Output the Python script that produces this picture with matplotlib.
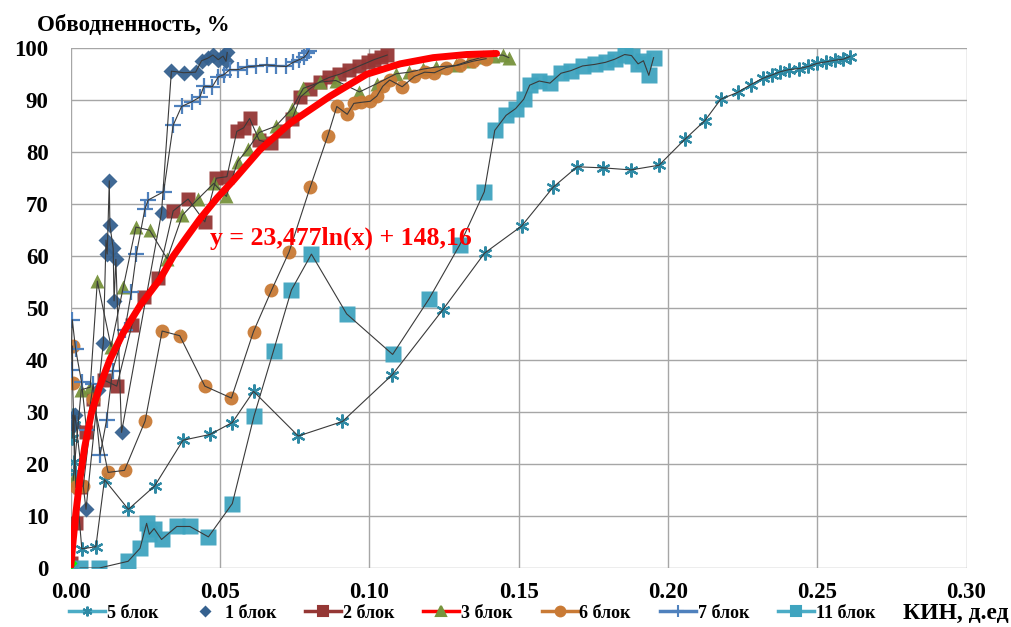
import matplotlib
matplotlib.use("Agg")
import matplotlib.pyplot as plt
from matplotlib.lines import Line2D

# Обводненность vs КИН по блокам

# 5 блок
x5 = [0.0005, 0.0008, 0.001, 0.0012, 0.0015, 0.0037, 0.0084, 0.0113, 0.0193, 0.0281, 0.0376, 0.0466, 0.0541,
      0.0612, 0.0762, 0.091, 0.1077, 0.1246, 0.1386, 0.151, 0.1616, 0.1696, 0.1781, 0.1876, 0.197, 0.2057,
      0.2124, 0.2177, 0.2233, 0.2277, 0.2317, 0.235, 0.2377, 0.2406, 0.244, 0.247, 0.25, 0.2531, 0.2559,
      0.2587, 0.2609]
y5 = [25.0, 29.5, 27.5, 20.5, 18.5, 3.7, 4.1, 17.0, 11.3, 15.8, 24.6, 25.7, 28.0, 34.0, 25.4, 28.2, 37.2,
      49.7, 60.6, 65.8, 73.3, 77.2, 77.0, 76.6, 77.5, 82.5, 86.1, 90.2, 91.5, 93.0, 94.2, 94.9, 95.5, 95.9,
      96.1, 96.5, 97.1, 97.4, 97.7, 97.9, 98.4]

# 1 блок
x1 = [0.0008, 0.0014, 0.0051, 0.0092, 0.0109, 0.0118, 0.0122, 0.0129, 0.0131, 0.0142, 0.0145, 0.0151, 0.017,
      0.0304, 0.0337, 0.0378, 0.0418, 0.0438, 0.0459, 0.0476, 0.0494, 0.051, 0.052, 0.0524]
y1 = [27.5, 29.4, 11.3, 34.2, 43.3, 63.1, 60.4, 74.5, 66.0, 61.5, 51.4, 59.4, 26.1, 68.4, 95.6, 95.3, 95.4,
      97.6, 98.1, 98.7, 97.8, 98.5, 97.5, 99.2]

# 2 блок
x2 = [0.0, 0.0017, 0.0031, 0.0051, 0.0075, 0.011, 0.0154, 0.0205, 0.0246, 0.0292, 0.0343, 0.0393, 0.0449,
      0.0487, 0.0523, 0.0556, 0.0579, 0.0599, 0.0631, 0.0671, 0.071, 0.0742, 0.0769, 0.0801, 0.0835, 0.0866,
      0.09, 0.0933, 0.0966, 0.0995, 0.1015, 0.104, 0.106]
y2 = [1.0, 8.7, 15.6, 26.2, 32.6, 36.2, 35.0, 46.8, 52.1, 55.9, 68.7, 71.0, 66.6, 75.0, 75.3, 84.0, 84.7,
      86.5, 82.3, 81.7, 84.0, 86.4, 90.6, 92.2, 93.6, 94.4, 95.0, 95.8, 96.6, 97.3, 97.8, 98.3, 98.7]

# 3 блок
x3 = [0.0008, 0.0035, 0.0065, 0.0089, 0.0135, 0.0176, 0.0218, 0.0264, 0.0323, 0.0374, 0.0426, 0.0479,
      0.0521, 0.0559, 0.0593, 0.0631, 0.0686, 0.074, 0.0779, 0.0836, 0.0888, 0.0967, 0.1025, 0.109, 0.1134,
      0.118, 0.1224, 0.129, 0.1335, 0.138, 0.1413, 0.1447, 0.1467]
y3 = [16.9, 34.3, 34.8, 55.2, 42.6, 54.1, 65.6, 65.0, 59.5, 67.9, 71.0, 74.0, 71.5, 78.2, 80.6, 83.8, 85.0,
      88.3, 92.3, 93.5, 93.8, 91.6, 93.2, 95.1, 95.4, 96.0, 96.4, 96.7, 97.6, 98.3, 98.6, 98.7, 98.2]

# 6 блок
x6 = [0.0006, 0.0006, 0.0017, 0.0042, 0.0075, 0.0125, 0.018, 0.0249, 0.0306, 0.0365, 0.0449, 0.0538, 0.0612,
      0.0672, 0.0731, 0.0802, 0.0861, 0.0891, 0.0926, 0.0948, 0.0973, 0.1003, 0.1025, 0.1045, 0.1068, 0.111,
      0.1151, 0.1185, 0.1218, 0.1257, 0.1302, 0.1346, 0.1391]
y6 = [42.7, 35.6, 15.5, 15.8, 32.5, 18.4, 18.8, 28.3, 45.6, 44.7, 35.0, 32.7, 45.5, 53.4, 60.8, 73.3, 83.2,
      88.8, 87.3, 89.4, 89.6, 89.8, 90.8, 92.7, 93.9, 92.6, 94.6, 95.4, 95.3, 96.3, 96.8, 97.5, 98.0]

# 7 блок
x7 = [0.0, 0.0005, 0.0016, 0.0036, 0.0053, 0.0075, 0.0098, 0.012, 0.014, 0.0181, 0.0203, 0.022, 0.0248,
      0.0259, 0.0311, 0.0343, 0.0371, 0.0405, 0.0432, 0.0446, 0.0474, 0.0494, 0.0512, 0.0533, 0.056, 0.0589,
      0.0622, 0.0656, 0.0689, 0.0722, 0.0745, 0.0765, 0.0782, 0.0792, 0.0797]
y7 = [38.1, 47.8, 42.2, 35.8, 26.5, 35.4, 21.7, 28.5, 38.0, 45.8, 53.1, 60.5, 69.0, 70.8, 72.4, 85.2, 88.8,
      89.7, 90.6, 92.7, 92.6, 94.5, 94.9, 95.9, 95.9, 96.4, 96.6, 96.8, 96.6, 96.5, 97.3, 97.8, 98.3, 99.0,
      99.5]

# 11 блок
x11 = [0.0031, 0.0095, 0.0192, 0.0232, 0.0254, 0.0263, 0.0279, 0.0304, 0.0355, 0.0399, 0.0461, 0.0541,
       0.0614, 0.0679, 0.0739, 0.0806, 0.0924, 0.1078, 0.12, 0.1303, 0.1385, 0.142, 0.1458, 0.149, 0.1517,
       0.1537, 0.1569, 0.1605, 0.1642, 0.1675, 0.1714, 0.1755, 0.1791, 0.1822, 0.1855, 0.1878, 0.19, 0.1918,
       0.1936, 0.1952]
y11 = [0.0, 0.0, 1.3, 3.8, 8.6, 6.5, 7.6, 5.5, 8.0, 8.0, 6.0, 12.4, 29.3, 41.8, 53.5, 60.4, 48.9, 41.1, 51.8,
       62.2, 72.4, 84.2, 87.1, 88.4, 90.2, 92.9, 93.7, 93.3, 95.2, 95.7, 96.6, 96.9, 97.3, 97.9, 98.8, 98.6,
       97.0, 97.6, 94.8, 98.2]

# red trend curve
x_tr = [0.0, 0.0008, 0.0017, 0.003, 0.0047, 0.0069, 0.0097, 0.0131, 0.0176, 0.0232, 0.0299, 0.0343, 0.0390,
        0.0433, 0.0490, 0.0545, 0.0634, 0.0735, 0.0869, 0.0991, 0.1103, 0.1214, 0.1326, 0.1426]
y_tr = [0.3, 5.3, 10.5, 16.9, 23.4, 29.8, 35.0, 40.1, 45.3, 50.5, 55.6, 60.0, 63.8, 67.2, 71.2, 74.6, 80.5,
        85.6, 90.8, 95.0, 97.0, 98.2, 98.8, 99.0]

x_ticks = [0.0, 0.05, 0.10, 0.15, 0.20, 0.25, 0.30]
y_ticks = [0, 10, 20, 30, 40, 50, 60, 70, 80, 90, 100]

serif = ['Liberation Serif', 'DejaVu Serif']
line_col = '#3a3a3a'

fig = plt.figure(figsize=(10.11, 6.27), dpi=100)
ax = fig.add_axes([0.070, 0.094, 0.886, 0.829])

series = [
    # x, y, label, marker, face, size, legend line colour
    (x5, y5, '5 блок', (6, 2, 0), '#2f8aa5', 10, '#4bacc6'),
    (x1, y1, '1 блок', 'D', '#35618f', 8, None),
    (x2, y2, '2 блок', 's', '#953735', 10, '#953735'),
    (x3, y3, '3 блок', '^', '#77933c', 10, '#ff0000'),
    (x6, y6, '6 блок', 'o', '#c97a35', 10, '#c97a35'),
    (x7, y7, '7 блок', '+', '#4f81bd', 11, '#4f81bd'),
    (x11, y11, '11 блок', 's', '#3fa4bf', 11, '#4bacc6'),
]

handles = []
for xs, ys, lab, mk, col, ms, lcol in series:
    if mk == '+' or isinstance(mk, tuple):
        ax.plot(xs, ys, ls='none', marker=mk, ms=ms, mew=1.6, color=col, zorder=3)
    else:
        ax.plot(xs, ys, ls='none', marker=mk, ms=ms, mec='none', color=col, alpha=0.95, zorder=3)
    ax.plot(xs, ys, color=line_col, lw=0.8, zorder=4)
    if lcol is None:
        h = Line2D([], [], ls='none', marker=mk, ms=6, color=col, mec='none')
    else:
        h = Line2D([], [], color=lcol, lw=2.5, marker=mk, ms=7 if mk != '+' else 8,
                   mfc=col, mec=col, mew=1.5)
    handles.append(h)

# origin point
ax.plot([0.0], [1.0], ls='none', marker='D', ms=6, color='#00ff00', mec='none', zorder=5)

# trend curve
ax.plot(x_tr, y_tr, color='#ff0000', lw=5, solid_capstyle='round', solid_joinstyle='round', zorder=6)
ax.text(0.0465, 63.5, 'y = 23,477ln(x) + 148,16', color='#ff0000', fontsize=18.5, fontweight='bold',
        family=serif, ha='left', va='center', zorder=7)

ax.set_xlim(0, 0.30)
ax.set_ylim(0, 100)
ax.set_xticks(x_ticks)
ax.set_yticks(y_ticks)
ax.set_xticklabels(['%.2f' % v for v in x_ticks])
ax.grid(True, color='#a6a6a6', lw=1.0)
ax.set_axisbelow(True)
for s in ax.spines.values():
    s.set_visible(False)
ax.tick_params(length=0, pad=16)
ax.tick_params(axis='x', pad=10)
for lbl in ax.get_xticklabels() + ax.get_yticklabels():
    lbl.set_fontfamily(serif)
    lbl.set_fontweight('bold')
    lbl.set_fontsize(16.5)

fig.text(0.037, 1 - 25 / 627, 'Обводненность, %', fontsize=16.5, fontweight='bold', family=serif,
         ha='left', va='center')
fig.text(0.998, 1 - 613 / 627, 'КИН, д.ед', fontsize=17, fontweight='bold', family=serif,
         ha='right', va='center')

leg = fig.legend(handles, [s[2] for s in series], loc='center left', bbox_to_anchor=(0.052, 1 - 613 / 627),
                 ncol=7, frameon=False, handlelength=2.0, handletextpad=0.1, columnspacing=1.6,
                 prop={'family': serif, 'weight': 'bold', 'size': 13})

fig.savefig('out.png', dpi=100)
